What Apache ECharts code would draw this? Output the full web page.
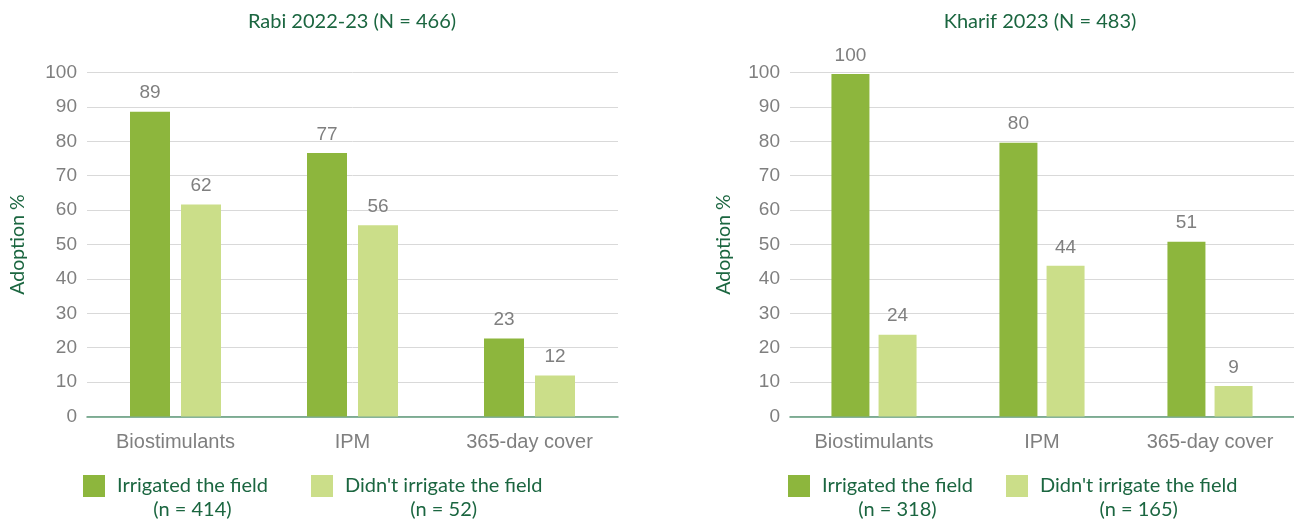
<!DOCTYPE html>
<html>
<head>
<meta charset="utf-8">
<script src="https://cdn.jsdelivr.net/npm/echarts@6/dist/echarts.min.js"></script>
<style>
html,body{margin:0;padding:0;background:#fff;}
#c{width:1294px;height:521px;}
</style>
</head>
<body>
<div id="c"></div>
<script>
const categories = ['Biostimulants', 'IPM', '365-day cover'];
const titles = ['Rabi 2022-23 (N = 466)', 'Kharif 2023 (N = 483)'];
const seriesNamesRabi = ['Irrigated the field|(n = 414)', "Didn't irrigate the field|(n = 52)"];
const seriesNamesKharif = ['Irrigated the field|(n = 318)', "Didn't irrigate the field|(n = 165)"];
const rabiIrrigated = [88.6, 76.6, 22.7];
const rabiNotIrrigated = [61.6, 55.6, 11.9];
const kharifIrrigated = [99.6, 79.6, 50.8];
const kharifNotIrrigated = [23.8, 43.8, 8.9];
const yTicks = [0, 10, 20, 30, 40, 50, 60, 70, 80, 90, 100];

const GREEN_D = '#8db63d';
const GREEN_L = '#cbde89';
const TXT_G = '#1b6640';
const GRAY = '#7f7f7f';
const FONT_T = 'Lato';
const FONT_A = 'Liberation Sans';

const chart = echarts.init(document.getElementById('c'), null, {renderer: 'canvas'});

function legend(name, left, top) {
  return {
    data: [name], left: left, top: top, orient: 'horizontal',
    icon: 'rect', itemWidth: 22, itemHeight: 22, padding: 0,
    selectedMode: false,
    formatter: n => { const p = n.split('|'); return '{a|' + p[0] + '}\n{b|' + p[1] + '}'; },
    textStyle: {
      color: TXT_G, fontFamily: FONT_T, fontSize: 20, padding: [24, 0, 0, 7],
      rich: {
        a: {color: TXT_G, fontFamily: FONT_T, fontSize: 20, lineHeight: 24},
        b: {color: TXT_G, fontFamily: FONT_T, fontSize: 20, lineHeight: 24, align: 'center'}
      }
    }
  };
}

function yAxis(gi, gap) {
  return {
    type: 'value', gridIndex: gi, min: 0, max: 100, interval: 10,
    name: 'Adoption %', nameLocation: 'middle', nameGap: gap,
    nameTextStyle: {color: TXT_G, fontFamily: FONT_T, fontSize: 19.5},
    axisLine: {show: false}, axisTick: {show: false},
    axisLabel: {color: GRAY, fontFamily: FONT_A, fontSize: 19, margin: 10,
      formatter: v => yTicks.includes(v) ? String(v) : ''},
    splitLine: {lineStyle: {color: '#d9d9d9', width: 1}}
  };
}

function xAxis(gi) {
  return {
    type: 'category', gridIndex: gi, data: categories,
    axisLine: {lineStyle: {color: '#5f9a7b', width: 1.5}},
    axisTick: {show: false},
    axisLabel: {color: GRAY, fontFamily: FONT_A, fontSize: 20, margin: 16, interval: 0}
  };
}

function bar(name, data, color, gi, w, gap) {
  return {
    type: 'bar', name: name, data: data, xAxisIndex: gi, yAxisIndex: gi,
    barWidth: w, barGap: gap, itemStyle: {color: color},
    label: {show: true, position: 'top', distance: 9, color: GRAY,
      fontFamily: FONT_A, fontSize: 19, formatter: p => String(Math.round(p.value))},
    emphasis: {disabled: true}, animation: false
  };
}

chart.setOption({
  animation: false,
  title: [
    {text: titles[0], left: 347, top: 7, textAlign: 'center',
     textStyle: {color: TXT_G, fontFamily: FONT_T, fontSize: 20, fontWeight: 'normal'}},
    {text: titles[1], left: 1035, top: 7, textAlign: 'center',
     textStyle: {color: TXT_G, fontFamily: FONT_T, fontSize: 20, fontWeight: 'normal'}}
  ],
  legend: [
    legend(seriesNamesRabi[0], 83, 475),
    legend(seriesNamesRabi[1], 311, 475),
    legend(seriesNamesKharif[0], 788, 475),
    legend(seriesNamesKharif[1], 1006, 475)
  ],
  grid: [
    {left: 87, width: 531, top: 72.5, height: 344},
    {left: 790, width: 504, top: 72.5, height: 344}
  ],
  xAxis: [xAxis(0), xAxis(1)],
  yAxis: [yAxis(0, 59), yAxis(1, 56)],
  series: [
    bar(seriesNamesRabi[0], rabiIrrigated, GREEN_D, 0, 40, '27.5%'),
    bar(seriesNamesRabi[1], rabiNotIrrigated, GREEN_L, 0, 40, '27.5%'),
    bar(seriesNamesKharif[0], kharifIrrigated, GREEN_D, 1, 38, '24%'),
    bar(seriesNamesKharif[1], kharifNotIrrigated, GREEN_L, 1, 38, '24%')
  ]
});
</script>
</body>
</html>
